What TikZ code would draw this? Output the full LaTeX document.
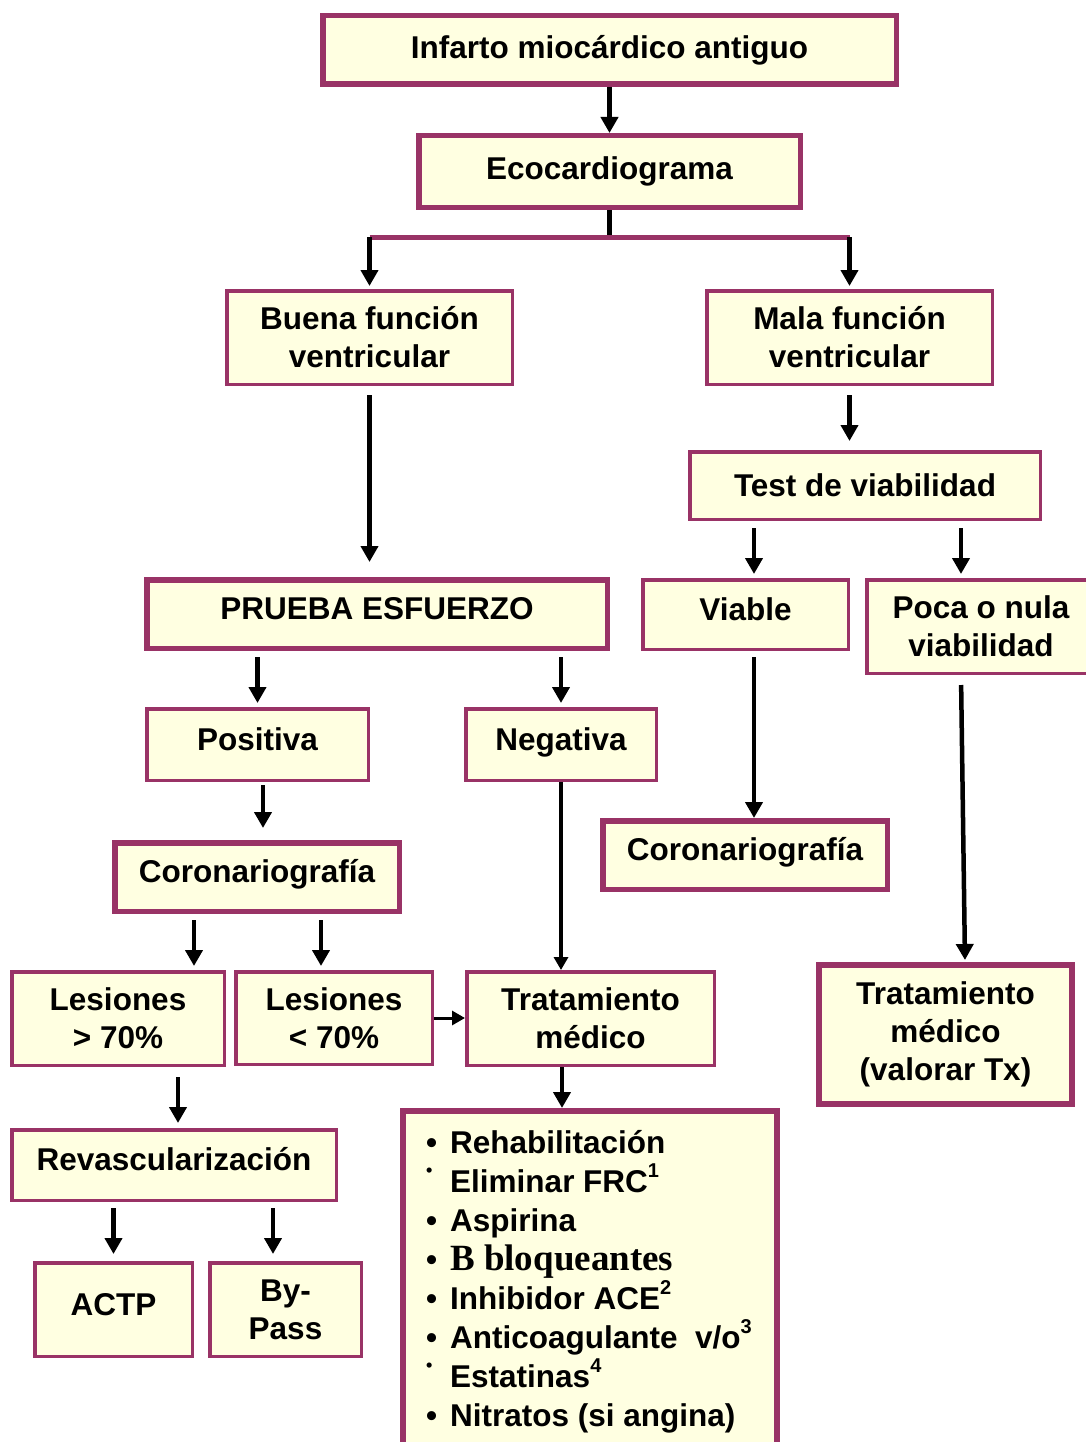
\documentclass[tikz,border=0pt]{standalone}
\usepackage{fontspec}
\setmainfont{Liberation Sans}
\newfontfamily\serifbf{Liberation Serif}
\usetikzlibrary{arrows.meta,calc}

\definecolor{borde}{RGB}{153,51,102}
\definecolor{relleno}{RGB}{255,255,225}

\newcommand{\punto}{\makebox[24pt][l]{•}}
\newcommand{\puntito}{\makebox[24pt][l]{\raisebox{16pt}{\fontsize{18}{18}\selectfont •}}}
\newcommand{\supind}[1]{\raisebox{15pt}{\fontsize{20}{20}\selectfont #1}}

\begin{document}
\begin{tikzpicture} [x=1pt, y=-1pt,
				caja/.style={
				% The shape:
				rectangle,
				% The border:
				line width=3.5pt,
				draw=borde,
				% The filling:
				fill=relleno,
				% Font
				font=\bfseries\fontsize{31.5}{38}\selectfont,
				inner sep=0pt
				},
				cajagruesa/.style={
				caja,
				% The border:
				line width=5.5pt
				},
				unalinea/.style={
				% text a little above the middle
				text height=22pt, text depth=11pt
				},
				flecha/.style={
				line width=4.5pt,
				-{Triangle[width=17pt,length=16pt]}
				},
				flechafina/.style={
				line width=3.5pt,
				-{Triangle[width=14pt,length=13pt]}
				},
				]
    \tikzstyle{every node} = [align=center]
    \useasboundingbox (0,0) rectangle (1086,1442);

    % boxes
    \node [cajagruesa, minimum width=573.5pt, minimum height=68.5pt] (infarto) at (609.5,50) {Infarto miocárdico antiguo};
    \node [cajagruesa, minimum width=381.5pt, minimum height=71.5pt] (eco) at (609.5,171.5) {Ecocardiograma};
    \node [caja, minimum width=285.5pt, minimum height=93.5pt] (buena) at (369.5,337.5) {Buena función\\ventricular};
    \node [caja, minimum width=285.5pt, minimum height=93.5pt] (mala) at (849.5,337.5) {Mala función\\ventricular};
    \node [caja, minimum width=350.5pt, minimum height=67.5pt] (test) at (865,485.5) {Test de viabilidad};
    \node [cajagruesa, unalinea, minimum width=460.5pt, minimum height=68.5pt] (prueba) at (377,614) {PRUEBA ESFUERZO};
    \node [caja, unalinea, minimum width=205.5pt, minimum height=69.5pt] (viable) at (745.5,614.5) {Viable};
    \node [caja, minimum width=228.5pt, minimum height=93.5pt] (poca) at (981,626.5) {Poca o nula\\viabilidad};
    \node [caja, unalinea, minimum width=221.5pt, minimum height=71.5pt] (positiva) at (257.5,744.5) {Positiva};
    \node [caja, unalinea, minimum width=190.5pt, minimum height=71.5pt] (negativa) at (561,744.5) {Negativa};
    \node [cajagruesa, unalinea, minimum width=284.5pt, minimum height=68.5pt] (coro2) at (745,855) {Coronariografía};
    \node [cajagruesa, unalinea, minimum width=284.5pt, minimum height=68.5pt] (coro1) at (257,877) {Coronariografía};
    \node [caja, minimum width=212.5pt, minimum height=93.5pt] (les1) at (118,1018.5) {Lesiones\\> 70\%};
    \node [caja, minimum width=196.5pt, minimum height=92.5pt] (les2) at (334,1018) {Lesiones\\< 70\%};
    \node [caja, minimum width=247.5pt, minimum height=93.5pt] (trat1) at (590.5,1018.5) {Tratamiento\\médico};
    \node [caja, line width=6pt, minimum width=253pt, minimum height=139pt] (trat2) at (945.5,1034.5) {Tratamiento\\médico\\(valorar Tx)};
    \node [caja, unalinea, minimum width=324.5pt, minimum height=70.5pt] (revasc) at (174,1165) {Revascularización};
    \node [caja, unalinea, minimum width=157.5pt, minimum height=93.5pt] (actp) at (113.5,1309.5) {ACTP};
    \node [caja, minimum width=151.5pt, minimum height=93.5pt] (bypass) at (285.5,1309.5) {By-\\Pass};
    \node [caja, line width=6pt, minimum width=374pt, minimum height=346pt] (cuidados) at (590,1284) {};
    \node [anchor=north west, inner sep=0pt, align=left, font=\bfseries\fontsize{31.5}{39.1}\selectfont] (txlista) at (426,1123) {%
        \rule{0pt}{30pt}\punto Rehabilitación\\
        \puntito Eliminar FRC\supind{1}\\
        \punto Aspirina\\
        \punto {\serifbf\fontsize{37}{39.1}\selectfont B bloqueantes}\\
        \punto Inhibidor ACE\supind{2}\\
        \punto Anticoagulante\ \ v/o\supind{3}\\
        \puntito Estatinas\supind{4}\\
        \punto Nitratos (si angina)};

    % connectors
    \draw [flecha] (infarto.south) -- (eco.north);
    \coordinate (rama) at ($(eco.south)+(0,27)$);
    \draw [line width=5pt] (eco.south) -- (rama);
    \draw [line width=5pt, draw=borde] (buena.north |- rama) -- (mala.north |- rama);
    \draw [flecha, shorten >=3pt] (buena.north |- rama) -- (buena.north);
    \draw [flecha, shorten >=3pt] (mala.north |- rama) -- (mala.north);
    \draw [flecha, shorten <=9pt, shorten >=15pt] (buena.south) -- (buena.south |- prueba.north);
    \draw [flecha, shorten <=9pt, shorten >=9pt] (mala.south) -- (mala.south |- test.north);
    \draw [flecha, shorten <=7pt, shorten >=4pt] ($(test.south -| viable.north)+(8.5,0)$) -- ($(viable.north)+(8.5,0)$);
    \draw [flecha, shorten <=7pt, shorten >=4pt] ($(test.south -| poca.north)+(-20,0)$) -- ($(poca.north)+(-20,0)$);
    \draw [flecha, shorten <=6pt, shorten >=4pt] (prueba.south -| positiva.north) -- (positiva.north);
    \draw [flecha, shorten <=6pt, shorten >=4pt] (prueba.south -| negativa.north) -- (negativa.north);
    \draw [flecha, shorten <=6pt] ($(viable.south)+(8.5,0)$) -- ($(coro2.north -| viable.south)+(8.5,0)$);
    \draw [flecha, shorten <=10pt, shorten >=2pt] ($(poca.south)+(-20,0)$) -- ($(trat2.north)+(19.5,0)$);
    \draw [flecha, shorten <=3pt, shorten >=12pt] ($(positiva.south)+(5.5,0)$) -- ($(coro1.north -| positiva.south)+(5.5,0)$);
    \draw [flecha, shorten <=6pt, shorten >=4pt] ($(coro1.south)+(-63,0)$) -- ($(les1.north -| coro1.south)+(-63,0)$);
    \draw [flecha, shorten <=6pt, shorten >=4pt] ($(coro1.south)+(64,0)$) -- ($(les2.north -| coro1.south)+(64,0)$);
    \draw [flechafina, line width=3pt] (les2.east) -- (les2.east -| trat1.west);
    \draw [flechafina] (negativa.south) -- (negativa.south |- trat1.north);
    \draw [flecha] ($(trat1.south)+(-28.5,0)$) -- ($(cuidados.north -| trat1.south)+(-28.5,0)$);
    \draw [flecha, shorten <=10pt, shorten >=5pt] ($(les1.south)+(60,0)$) -- ($(revasc.north -| les1.south)+(60,0)$);
    \draw [flecha, shorten <=6pt, shorten >=7pt] (revasc.south -| actp.north) -- (actp.north);
    \draw [flecha, shorten <=6pt, shorten >=7pt] ($(revasc.south -| bypass.north)+(-12.5,0)$) -- ($(bypass.north)+(-12.5,0)$);
\end{tikzpicture}
\end{document}
